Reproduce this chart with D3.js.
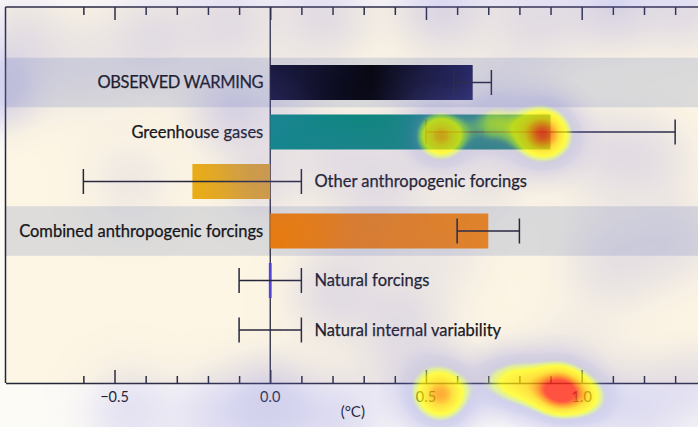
<!DOCTYPE html>
<html>
<head>
<meta charset="utf-8">
<script src="https://cdn.jsdelivr.net/npm/d3@7"></script>
<style>
  html, body { margin: 0; padding: 0; background: #fdfbf6; }
  #wrap { position: relative; width: 698px; height: 427px; overflow: hidden; }
  #wrap svg, #wrap canvas { position: absolute; left: 0; top: 0; }
  #wrap canvas { pointer-events: none; }
</style>
</head>
<body>
<div id="wrap"></div>
<script>
// Contributions to observed surface temperature change (°C)
const categories = [
  "OBSERVED WARMING",
  "Greenhouse gases",
  "Other anthropogenic forcings",
  "Combined anthropogenic forcings",
  "Natural forcings",
  "Natural internal variability"
];
const bestEstimate = [0.65, 0.90, -0.25, 0.70, 0.0, null];
const rangeLow     = [0.59, 0.50, -0.60, 0.60, -0.10, -0.10];
const rangeHigh    = [0.71, 1.30,  0.10, 0.80,  0.10,  0.10];
const labelSide    = ["left", "left", "right", "left", "right", "right"];
const shadedRows   = ["OBSERVED WARMING", "Combined anthropogenic forcings"];
const tickValues   = d3.range(-6, 14).map(i => i / 10);
const labelTicks   = [-0.5, 0, 0.5, 1.0];

// Viewing-density hotspots: [°C position, row position, weight, spread]
const hotspots = [
  [0.546, 1.08, 0.72, 18], [0.876, 1.03, 0.90, 20], [0.71, 0.80, 0.32, 18],
  [0.548, 6.30, 0.78, 21], [0.925, 6.22, 0.93, 19], [0.80, 6.08, 0.46, 20],
  [1.02, 6.36, 0.36, 17], [0.72, 6.00, 0.24, 18]
];
const haze = [
  [-0.87, 0.10, 0.30, 24], [-0.80, -0.90, 0.12, 30], [-0.38, -0.85, 0.15, 34],
  [-0.13, -1.25, 0.15, 32], [0.17, -1.35, 0.16, 32], [0.55, -1.55, 0.22, 30],
  [0.85, -1.35, 0.16, 34], [1.10, -1.60, 0.22, 30], [1.33, -1.55, 0.16, 30],
  [-0.13, 0.55, 0.22, 26], [0.03, 0.45, 0.12, 26], [0.20, 1.50, 0.12, 30],
  [0.38, 1.85, 0.13, 30], [-0.03, 1.90, 0.14, 26], [-0.45, 2.0, 0.07, 30],
  [0.30, 3.00, 0.08, 32], [0.55, 3.40, 0.07, 34], [1.10, 3.60, 0.12, 34],
  [1.30, 3.20, 0.10, 30], [0.20, 4.30, 0.15, 30], [0.42, 4.70, 0.12, 30],
  [0.0, 6.50, 0.30, 28], [-0.17, 6.75, 0.16, 30], [0.20, 6.80, 0.18, 30],
  [-0.45, 6.65, 0.14, 30], [1.18, 6.55, 0.18, 30], [1.36, 6.10, 0.12, 26],
  [1.05, 1.40, 0.12, 32], [1.22, 1.55, 0.11, 30], [0.70, 1.60, 0.12, 32],
  [0.75, 0.45, 0.12, 30], [0.48, 0.50, 0.10, 28], [0.95, 5.80, 0.10, 34],
  [0.45, 5.85, 0.13, 34], [-0.62, -0.30, 0.08, 34]
];

const W = 698, H = 427;
const plotLeft = 5.5, plotTop = 7, axisY = 383;

const x = d3.scaleLinear().domain([-0.85, 1.375]).range([plotLeft, W + 0.5]);
const rowPos = d3.scaleLinear().domain([0, 1]).range([82.5, 132]);
const y = d3.scaleBand().domain(categories)
  .range([rowPos(-0.5), rowPos(categories.length - 0.5)]);
const barH = 35;

const svg = d3.select("#wrap").append("svg").attr("width", W).attr("height", H);

const defs = svg.append("defs");
const gradients = {
  "OBSERVED WARMING": ["#0d0d2c", "#06060f", "#22225c"],
  "Greenhouse gases": ["#04887f", "#0a8774", "#26865e"],
  "Other anthropogenic forcings": ["#ecae14", "#e4a824", "#dca030"],
  "Combined anthropogenic forcings": ["#e87b0e", "#e87f16", "#e88420"],
  "Natural forcings": ["#5044d8", "#5044d8", "#5044d8"]
};
const gradId = {};
Object.entries(gradients).forEach(([k, cols], i) => {
  const g = defs.append("linearGradient").attr("id", "grad" + i)
    .attr("x1", "0%").attr("x2", "100%");
  cols.forEach((c, j) => g.append("stop").attr("offset", (j * 50) + "%").attr("stop-color", c));
  gradId[k] = "grad" + i;
});

// plot background
svg.append("rect").attr("x", plotLeft).attr("y", plotTop)
  .attr("width", W - plotLeft).attr("height", axisY - plotTop).attr("fill", "#fdf6e4");

// shaded rows
svg.selectAll("rect.band").data(shadedRows).join("rect")
  .attr("class", "band")
  .attr("x", plotLeft).attr("width", W - plotLeft)
  .attr("y", d => y(d)).attr("height", y.bandwidth())
  .attr("fill", "#dddcda");

// frame and zero line
const ink = "#26263a";
svg.append("line").attr("x1", plotLeft).attr("x2", W).attr("y1", plotTop).attr("y2", plotTop)
  .attr("stroke", ink).attr("stroke-width", 1.5);
svg.append("line").attr("x1", plotLeft).attr("x2", plotLeft).attr("y1", plotTop).attr("y2", axisY)
  .attr("stroke", ink).attr("stroke-width", 1.5);
svg.append("line").attr("x1", x(0)).attr("x2", x(0)).attr("y1", plotTop).attr("y2", axisY)
  .attr("stroke", ink).attr("stroke-width", 1.3);

// bars
const rows = categories.map((c, i) => ({
  name: c, value: bestEstimate[i], lo: rangeLow[i], hi: rangeHigh[i], side: labelSide[i]
}));
svg.selectAll("rect.bar").data(rows.filter(d => d.value !== null)).join("rect")
  .attr("class", "bar")
  .attr("x", d => d.value === 0 ? x(0) - 1.4 : Math.min(x(0), x(d.value)))
  .attr("width", d => d.value === 0 ? 2.8 : Math.abs(x(d.value) - x(0)))
  .attr("y", d => y(d.name) + (y.bandwidth() - barH) / 2)
  .attr("height", barH)
  .attr("fill", d => `url(#${gradId[d.name]})`);

// error bars
const capH = 12.5;
const eb = svg.selectAll("g.err").data(rows).join("g").attr("class", "err")
  .attr("transform", d => `translate(0,${y(d.name) + y.bandwidth() / 2})`)
  .attr("stroke", ink).attr("stroke-width", 1.5);
eb.append("line").attr("x1", d => x(d.lo)).attr("x2", d => x(d.hi));
eb.append("line").attr("x1", d => x(d.lo)).attr("x2", d => x(d.lo)).attr("y1", -capH).attr("y2", capH);
eb.append("line").attr("x1", d => x(d.hi)).attr("x2", d => x(d.hi)).attr("y1", -capH).attr("y2", capH);

// row labels
svg.selectAll("text.lab").data(rows).join("text")
  .attr("class", "lab")
  .attr("x", d => d.side === "left" ? x(0) - 7 : x(d.hi) + 13)
  .attr("y", d => y(d.name) + y.bandwidth() / 2)
  .attr("dy", "0.35em")
  .attr("text-anchor", d => d.side === "left" ? "end" : "start")
  .attr("font-family", "Lato, 'Open Sans', sans-serif")
  .attr("font-size", 16.5)
  .attr("letter-spacing", d => d.name === d.name.toUpperCase() ? -0.4 : 0)
  .attr("fill", "#141418")
  .attr("stroke", "#141418").attr("stroke-width", 0.25)
  .text(d => d.name);

// axes (bottom and top)
const isMajor = v => Math.abs(Math.round(v * 10) % 5) === 0;
const bottomAxis = svg.append("g").attr("transform", `translate(0,${axisY})`)
  .call(d3.axisBottom(x).tickValues(tickValues).tickSize(0).tickFormat(""));
bottomAxis.select(".domain").attr("stroke", ink).attr("stroke-width", 1.5);
bottomAxis.selectAll(".tick line").attr("y2", d => isMajor(d) ? -13 : -7)
  .attr("stroke", ink).attr("stroke-width", 1.5);

const topAxis = svg.append("g").attr("transform", `translate(0,${plotTop})`)
  .call(d3.axisTop(x).tickValues(tickValues).tickSize(0).tickFormat(""));
topAxis.select(".domain").remove();
topAxis.selectAll(".tick line").attr("y2", d => isMajor(d) ? 13 : 8)
  .attr("stroke", ink).attr("stroke-width", 1.5);

svg.selectAll("text.ticklab").data(labelTicks).join("text")
  .attr("class", "ticklab")
  .attr("x", d => x(d)).attr("y", axisY + 19)
  .attr("text-anchor", "middle")
  .attr("font-family", "Lato, 'Open Sans', sans-serif")
  .attr("font-size", 14.5).attr("fill", "#141418")
  .text(d => d3.format(".1f")(d).replace("-", "\u2212"));

svg.append("text").attr("x", x(0.265)).attr("y", axisY + 34)
  .attr("text-anchor", "middle")
  .attr("font-family", "Lato, 'Open Sans', sans-serif")
  .attr("font-size", 15).attr("fill", "#141418")
  .text("(°C)");

// viewing-density overlay
const canvas = d3.select("#wrap").append("canvas").attr("width", W).attr("height", H).node();
const ctx = canvas.getContext("2d");
const img = ctx.createImageData(W, H);
const pts = hotspots.concat(haze).map(([v, r, w, s]) => [x(v), rowPos(r), w, s]);
const stops = [
  [0.00, [118, 118, 226, 0.00]],
  [0.10, [118, 118, 226, 0.14]],
  [0.25, [115, 115, 224, 0.27]],
  [0.38, [130, 135, 215, 0.36]],
  [0.46, [200, 230, 90, 0.52]],
  [0.55, [255, 255, 0, 0.70]],
  [0.74, [255, 215, 0, 0.74]],
  [0.87, [255, 140, 0, 0.78]],
  [1.00, [255, 40, 20, 0.80]]
];
function colorAt(d) {
  if (d <= 0) return stops[0][1];
  for (let i = 1; i < stops.length; i++) {
    if (d <= stops[i][0]) {
      const [a, ca] = stops[i - 1], [b, cb] = stops[i];
      const t = (d - a) / (b - a);
      return ca.map((c, k) => c + (cb[k] - c) * t);
    }
  }
  return stops[stops.length - 1][1];
}
for (let py = 0; py < H; py++) {
  for (let px = 0; px < W; px++) {
    let d = 0;
    for (const [cx, cy, w, s] of pts) {
      const dx = px - cx, dy = py - cy;
      const r2 = dx * dx + dy * dy;
      if (r2 < 9 * s * s) d += w * Math.exp(-r2 / (2 * s * s));
    }
    const c = colorAt(d);
    const o = (py * W + px) * 4;
    img.data[o] = c[0]; img.data[o + 1] = c[1]; img.data[o + 2] = c[2];
    img.data[o + 3] = Math.round(c[3] * 255);
  }
}
ctx.putImageData(img, 0, 0);
</script>
</body>
</html>
